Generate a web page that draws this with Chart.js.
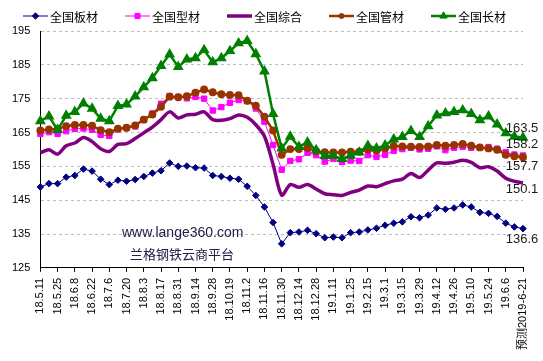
<!DOCTYPE html>
<html>
<head>
<meta charset="utf-8">
<script src="https://cdn.jsdelivr.net/npm/chart.js@4.4.0/dist/chart.umd.min.js"></script>
<style>
html, body { margin: 0; padding: 0; background: #fff; }
</style>
</head>
<body>
<canvas id="chart" width="543" height="361"></canvas>
<script>
// x轴只每两周显示一个日期
var tickLabels = ['18.5.11', '18.5.25', '18.6.8', '18.6.22', '18.7.6', '18.7.20', '18.8.3', '18.8.17',
  '18.8.31', '18.9.14', '18.9.28', '18.10.19', '18.11.2', '18.11.16', '18.11.30', '18.12.14',
  '18.12.28', '19.1.11', '19.1.25', '19.2.15', '19.3.1', '19.3.15', '19.3.29', '19.4.12',
  '19.4.26', '19.5.10', '19.5.24', '19.6.6', '预测2019-6-21'];

var banCai = [148.9, 149.9, 149.9, 151.8, 152.3, 154.2, 153.6, 151.2, 149.6, 150.9,
  150.6, 151.1, 152.0, 153.0, 153.7, 156.0, 155.0, 155.1, 154.6, 154.5,
  152.3, 152.0, 151.5, 151.2, 149.1, 146.4, 143.0, 138.4, 132.1, 135.4,
  135.6, 136.1, 135.1, 133.9, 134.1, 133.9, 135.4, 135.6, 136.2, 136.7,
  137.6, 138.2, 138.6, 140.1, 139.8, 140.6, 142.7, 142.3, 142.7, 143.6,
  143.0, 141.4, 141.1, 140.2, 138.2, 137.1, 136.6];

var xingCai = [164.6, 165.1, 164.6, 165.4, 166.1, 166.2, 165.8, 164.3, 164.0, 166.0,
  166.3, 166.8, 168.8, 170.6, 173.5, 175.8, 175.5, 175.1, 175.5, 175.0,
  171.5, 172.5, 173.8, 174.6, 174.3, 172.1, 168.2, 161.3, 154.0, 156.6,
  157.1, 159.0, 158.3, 156.4, 157.2, 156.3, 156.7, 156.6, 158.3, 157.8,
  158.4, 159.6, 160.1, 160.5, 160.0, 160.2, 160.9, 159.8, 160.5, 160.8,
  160.5, 160.5, 160.7, 160.2, 159.2, 158.5, 158.2];

var zongHe = [159.0, 159.9, 158.6, 161.1, 161.9, 163.5, 162.3, 160.2, 159.4, 161.5,
  161.7, 163.2, 164.9, 166.6, 168.8, 171.1, 169.3, 170.2, 170.4, 171.1,
  168.8, 168.6, 169.1, 170.2, 169.5, 167.3, 163.9, 155.6, 146.5, 149.6,
  148.8, 149.6, 148.3, 146.9, 146.6, 146.4, 147.3, 148.0, 149.2, 149.0,
  149.9, 150.7, 151.2, 152.9, 151.7, 153.9, 156.0, 155.9, 156.2, 156.8,
  156.2, 154.6, 154.9, 153.6, 151.5, 150.6, 150.1];

var guanCai = [165.6, 165.9, 166.0, 166.9, 167.2, 167.2, 167.0, 165.7, 165.1, 166.1,
  166.4, 167.1, 168.8, 170.3, 172.6, 175.6, 175.4, 175.7, 176.8, 177.7,
  176.9, 176.3, 176.1, 176.0, 174.4, 172.9, 169.7, 165.6, 158.4, 160.1,
  160.1, 160.4, 159.5, 159.2, 159.1, 159.1, 159.3, 159.3, 160.0, 159.7,
  160.3, 161.0, 160.9, 160.8, 160.7, 160.9, 161.3, 161.1, 161.3, 161.6,
  161.1, 160.6, 160.3, 159.9, 158.4, 158.0, 157.7];

var changCai = [168.4, 169.8, 165.8, 170.0, 171.1, 173.6, 172.1, 169.1, 168.4, 172.9,
  173.3, 175.7, 178.4, 181.1, 184.7, 188.1, 184.4, 186.6, 187.0, 189.4,
  185.8, 187.0, 189.1, 191.4, 192.1, 188.2, 183.1, 170.5, 160.3, 163.8,
  160.8, 162.1, 159.8, 158.1, 158.1, 157.2, 158.2, 159.1, 161.1, 160.3,
  161.2, 163.0, 163.7, 165.5, 163.7, 166.9, 170.1, 170.7, 171.1, 171.6,
  170.5, 168.7, 169.8, 167.4, 164.8, 163.8, 163.5];

// 每周一个点，没有标签的那周给空字符串
var categories = [];
tickLabels.forEach(function (t, i) {
  categories.push(t);
  if (i < tickLabels.length - 1) categories.push('');
});

// 图例：线加点，自己画
var lineLegend = {
  id: 'lineLegend',
  afterDraw: function (chart) {
    var ctx = chart.ctx;
    var sets = chart.data.datasets.slice().reverse();
    ctx.save();
    ctx.font = '12px "Noto Sans CJK SC", sans-serif';
    ctx.textBaseline = 'middle';
    sets.forEach(function (ds, i) {
      var x = 23 + i * 102, y = 16;
      ctx.strokeStyle = ds.borderColor;
      ctx.fillStyle = ds.borderColor;
      ctx.lineWidth = ds.borderWidth;
      ctx.beginPath();
      ctx.moveTo(x, y);
      ctx.lineTo(x + 25, y);
      ctx.stroke();
      if (ds.pointRadius) {
        ctx.lineWidth = 1;
        Chart.helpers.drawPoint(ctx, {pointStyle: ds.pointStyle, radius: ds.legendRadius, borderWidth: 1}, x + 12.5, y);
      }
      ctx.fillStyle = '#000';
      ctx.fillText(ds.label, x + 27, y + 1);
    });
    ctx.restore();
  }
};

// 最后一期的数值 + 水印
var endLabels = {
  id: 'endLabels',
  afterDatasetsDraw: function (chart) {
    var ctx = chart.ctx, xs = chart.scales.x, ys = chart.scales.y;
    var last = categories.length - 1;
    ctx.save();
    ctx.fillStyle = '#1a1a1a';
    ctx.font = '13px "Liberation Sans", Arial, sans-serif';
    ctx.textAlign = 'center';
    ctx.textBaseline = 'middle';
    chart.data.datasets.forEach(function (ds) {
      var v = ds.data[last];
      ctx.fillText(v.toFixed(1), xs.getPixelForValue(last) - 1, ys.getPixelForValue(v) + ds.labelShift);
    });
    ctx.textAlign = 'left';
    ctx.fillStyle = '#20204a';
    ctx.font = '14px "Liberation Sans", Arial, sans-serif';
    ctx.fillText('www.lange360.com', 122, 233);
    ctx.font = '13px "Noto Sans CJK SC", sans-serif';
    ctx.fillText('兰格钢铁云商平台', 130, 254);
    ctx.restore();
  }
};

var ctx = document.getElementById('chart').getContext('2d');
var chart = new Chart(ctx, {
  type: 'line',
  data: {
    labels: categories,
    datasets: [
      {label: '全国长材', data: changCai, borderColor: '#008000', backgroundColor: '#008000', borderWidth: 2.5,
        pointStyle: 'triangle', pointRadius: 3.8, legendRadius: 4.2, labelShift: -9},
      {label: '全国管材', data: guanCai, borderColor: '#993300', backgroundColor: '#993300', borderWidth: 2.5,
        pointStyle: 'circle', pointRadius: 2.7, legendRadius: 2.5, labelShift: 9},
      {label: '全国综合', data: zongHe, borderColor: '#800080', backgroundColor: '#800080', borderWidth: 3.5,
        pointRadius: 0, tension: 0.3, labelShift: 6},
      {label: '全国型材', data: xingCai, borderColor: '#FF00FF', backgroundColor: '#FF00FF', borderWidth: 1,
        pointStyle: 'rect', pointRadius: 3.8, legendRadius: 3.6, labelShift: -11},
      {label: '全国板材', data: banCai, borderColor: '#000080', backgroundColor: '#000080', borderWidth: 1,
        pointStyle: 'rectRot', pointRadius: 3.3, legendRadius: 3.2, labelShift: 11}
    ]
  },
  options: {
    responsive: false,
    animation: false,
    layout: {padding: {left: 2, right: 20, top: 31, bottom: 5}},
    plugins: {
      legend: {display: false},
      tooltip: {enabled: false}
    },
    scales: {
      x: {
        grid: {
          drawOnChartArea: false,
          tickLength: 4,
          tickColor: function (c) { return c.index % 2 === 0 ? '#000' : 'rgba(0,0,0,0)'; }
        },
        border: {color: '#000'},
        ticks: {
          autoSkip: false, minRotation: 90, maxRotation: 90, padding: 6, color: '#000',
          font: {family: '"Liberation Sans", "Noto Sans CJK SC", sans-serif', size: 11}
        }
      },
      y: {
        min: 125, max: 195,
        grid: {
          drawTicks: false,
          color: function (c) { return c.tick && c.tick.value === 125 ? 'rgba(0,0,0,0)' : '#BDBDBD'; }
        },
        border: {color: '#000', dash: [3, 3]},
        ticks: {
          stepSize: 10, padding: 10, color: '#000',
          font: {family: '"Liberation Sans", sans-serif', size: 11}
        }
      }
    }
  },
  plugins: [lineLegend, endLabels]
});
</script>
</body>
</html>
